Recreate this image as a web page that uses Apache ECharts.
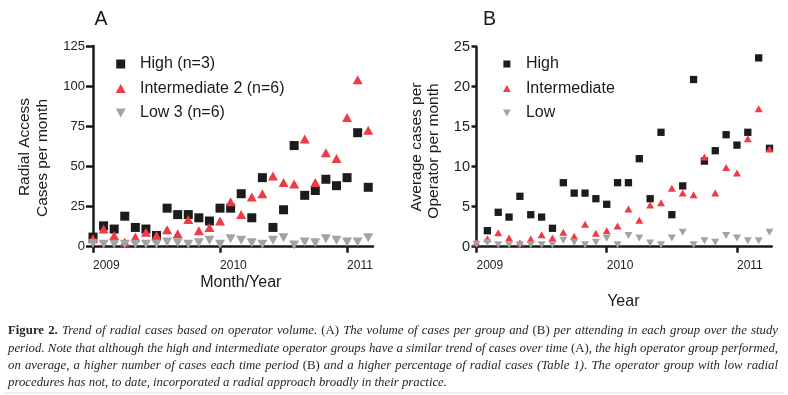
<!DOCTYPE html>
<html>
<head>
<meta charset="utf-8">
<script src="https://cdn.jsdelivr.net/npm/echarts@6/dist/echarts.min.js"></script>
<style>html,body{margin:0;padding:0;background:#fff}#c{width:788px;height:395px}</style>
</head>
<body>
<div id="c"></div>
<script>
// ---------- data (panel A: cases per group per month, month index from Jan 2009) ----------
const monthsA = [0,1,2,3,4,5,6,7,8,9,10,11,12,13,14,15,16,17,18,19,20,21,22,23,24,25,26];
const highA  = [6,13,11,19,12,11,7,24,20,20,18,16,24,24,33,18,43,12,23,63,32,35,42,38,43,71,37];
const interA = [5,11,7,3,6,9,7,10.5,8,17,10,12,16,28,20,31,33,44,40,39,67,40,58.5,55,80.5,104,72.5];
const lowA   = [2,1.5,1.5,1.5,1.5,1.5,1.5,3,2.5,1.5,2.5,4,1.5,5,4,2.5,1.5,4,5.5,1,3,2.5,5,4,3,3,5.5];

// ---------- data (panel B: average cases per operator per month) ----------
const monthsBHigh = [1,2,3,4,5,6,7,8,9,10,11,12,13,14,15,16,17,18,19,20,21,22,23,24,25,26,27];
const highB  = [2.0,4.3,3.7,6.3,4.0,3.7,2.3,8.0,6.7,6.7,6.0,5.3,8.0,8.0,11.0,6.0,14.3,4.0,7.6,20.9,10.7,12.0,14.0,12.7,14.3,23.6,12.3];
const monthsB = [0,1,2,3,4,5,6,7,8,9,10,11,12,13,14,15,16,17,18,19,20,21,22,23,24,25,26,27];
const interB = [0.5,1.0,1.75,1.1,0.5,0.95,1.5,1.1,1.8,1.3,2.8,1.67,2.0,2.6,4.7,3.3,5.2,5.5,7.3,6.7,6.5,11.2,6.7,9.9,9.2,13.5,17.25,12.2];
const lowB   = [0.3,0.5,0.25,0.25,0.25,0.25,0.25,0.25,0.8,0.55,0.25,0.55,1.05,0.25,1.4,1.1,0.45,0.25,1.1,1.8,0.25,0.75,0.55,1.4,1.1,0.75,0.75,1.8];

// ---------- tick labels ----------
const yearTicks  = [0, 12, 24];
const yearLabels = ['2009', '2010', '2011'];
const legendA = ['High (n=3)', 'Intermediate 2 (n=6)', 'Low 3 (n=6)'];
const legendB = ['High', 'Intermediate', 'Low'];

// ---------- caption ----------
const captionLines = [
  [['Figure 2.','b'],[' Trend of radial cases based on operator volume. ','i'],['(A)','n'],[' The volume of cases per group and ','i'],['(B)','n'],[' per attending in each group over the study','i']],
  [['period. Note that although the high and intermediate operator groups have a similar trend of cases over time ','i'],['(A)','n'],[', the high operator group performed,','i']],
  [['on average, a higher number of cases each time period ','i'],['(B)','n'],[' and a higher percentage of radial cases (Table 1). The operator group with low radial','i']],
  [['procedures has not, to date, incorporated a radial approach broadly in their practice.','i']]
];

// ---------- styles ----------
const SANS = '"Liberation Sans", Arial, sans-serif';
const SERIF = '"Liberation Serif", "Times New Roman", serif';
const AX = '#1a1a1a';
const C_HIGH = '#1c1c1c', C_INT = '#ef3b45', C_LOW = '#a3a3a3';
const SQ = 'path://M0,0H10V10H0Z';
const UP = 'path://M5,0L10,9L0,9Z';
const DOWN = 'path://M0,0L10,0L5,9Z';

function xAxisCfg(grid, min, max) {
  return {
    type: 'value', gridIndex: grid, min: min, max: max,
    axisLine: { show: true, onZero: false, lineStyle: { color: AX, width: 2.5 } },
    axisTick: { show: true, customValues: yearTicks, length: 6, lineStyle: { color: AX, width: 2.5 } },
    axisLabel: { customValues: yearTicks, formatter: v => yearLabels[yearTicks.indexOf(v)] || '',
      align: 'left', margin: 13, fontSize: 12, color: '#222', fontFamily: SANS },
    splitLine: { show: false }
  };
}
function yAxisCfg(grid, max, interval, fs, tickLen, margin) {
  return {
    type: 'value', gridIndex: grid, min: 0, max: max, interval: interval,
    axisLine: { show: true, lineStyle: { color: AX, width: 2.5 } },
    axisTick: { show: true, length: tickLen, lineStyle: { color: AX, width: 2.5 } },
    axisLabel: { fontSize: fs, color: '#222', fontFamily: SANS, margin: margin },
    splitLine: { show: false }
  };
}
function pts(xs, ys) { return xs.map((x, i) => [x, ys[i]]); }

// ---------- caption layout (justified words) ----------
const cv = document.createElement('canvas').getContext('2d');
const FS = 13;
function fontOf(s) {
  return s === 'b' ? `bold ${FS}px ${SERIF}` : s === 'n' ? `${FS}px ${SERIF}` : `italic ${FS}px ${SERIF}`;
}
function measure(t, s) { cv.font = fontOf(s); return cv.measureText(t).width; }
function toWords(segs) {
  const words = [[]];
  segs.forEach(([t, s]) => {
    t.split(' ').forEach((p, i) => {
      if (i > 0) words.push([]);
      if (p) words[words.length - 1].push([p, s]);
    });
  });
  return words.filter(w => w.length);
}
const capLeft = 8, capRight = 778;
const capY = [331, 348.5, 366, 383];
const lastLineTarget = 439;
let sx = 1;
{
  const w4 = toWords(captionLines[3]);
  const nat = w4.reduce((a, w) => a + w.reduce((b, [t, s]) => b + measure(t, s), 0), 0) + (w4.length - 1) * measure(' ', 'i');
  sx = Math.max(0.75, Math.min(1.1, lastLineTarget / nat));
}
const captionGraphics = [];
captionLines.forEach((segs, li) => {
  const words = toWords(segs);
  const widths = words.map(w => w.reduce((b, [t, s]) => b + measure(t, s) * sx, 0));
  const total = widths.reduce((a, b) => a + b, 0);
  const gap = li < 3 ? (capRight - capLeft - total) / (words.length - 1) : measure(' ', 'i') * sx;
  let x = capLeft;
  words.forEach((w, wi) => {
    let px = x;
    w.forEach(([t, s]) => {
      captionGraphics.push({ type: 'text', x: px, y: capY[li], scaleX: sx, silent: true,
        style: { text: t, font: fontOf(s), fill: '#262626', align: 'left', verticalAlign: 'middle' } });
      px += measure(t, s) * sx;
    });
    x += widths[wi] + gap;
  });
});

function label(text, x, y, size, rot) {
  return { type: 'text', x: x, y: y, rotation: rot ? Math.PI / 2 : 0, silent: true,
    style: { text: text, font: `${size}px ${SANS}`, fill: '#1a1a1a', align: 'center', verticalAlign: 'middle' } };
}

const chart = echarts.init(document.getElementById('c'), null, { renderer: 'canvas' });
chart.setOption({
  animation: false,
  backgroundColor: '#fff',
  grid: [
    { left: 93, top: 46, width: 280, height: 200.7 },
    { left: 476.5, top: 46.7, width: 295.2, height: 200 }
  ],
  xAxis: [ xAxisCfg(0, 0, 26.45), xAxisCfg(1, 0, 27.2) ],
  yAxis: [ yAxisCfg(0, 125, 25, 13, 7, 8), yAxisCfg(1, 25, 5, 14.5, 5, 6.5) ],
  legend: [
    { data: [{ name: legendA[0], icon: SQ }, { name: legendA[1], icon: UP }, { name: legendA[2], icon: DOWN }],
      orient: 'vertical', left: 115.7, top: 56, itemWidth: 28.6, itemHeight: 9, itemGap: 8.5, padding: 0,
      selectedMode: false, textStyle: { fontSize: 16, lineHeight: 16, fontFamily: SANS, color: '#1a1a1a' } },
    { data: [{ name: legendB[0], icon: SQ }, { name: legendB[1], icon: UP }, { name: legendB[2], icon: DOWN }],
      orient: 'vertical', left: 503, top: 56, itemWidth: 28, itemHeight: 7, itemGap: 8.5, padding: 0,
      selectedMode: false, textStyle: { fontSize: 16, lineHeight: 16, fontFamily: SANS, color: '#1a1a1a' } }
  ],
  series: [
    { type: 'scatter', name: legendA[0], xAxisIndex: 0, yAxisIndex: 0, data: pts(monthsA, highA), symbol: SQ, symbolSize: 9, itemStyle: { color: C_HIGH, opacity: 1 } },
    { type: 'scatter', name: legendA[1], xAxisIndex: 0, yAxisIndex: 0, data: pts(monthsA, interA), symbol: UP, symbolSize: [10, 9], itemStyle: { color: C_INT, opacity: 1 } },
    { type: 'scatter', name: legendA[2], xAxisIndex: 0, yAxisIndex: 0, data: pts(monthsA, lowA), symbol: DOWN, symbolSize: [10, 9], itemStyle: { color: C_LOW, opacity: 1 } },
    { type: 'scatter', name: legendB[0], xAxisIndex: 1, yAxisIndex: 1, data: pts(monthsBHigh, highB), symbol: SQ, symbolSize: 7.3, itemStyle: { color: C_HIGH, opacity: 1 } },
    { type: 'scatter', name: legendB[1], xAxisIndex: 1, yAxisIndex: 1, data: pts(monthsB, interB), symbol: UP, symbolSize: [8, 7], itemStyle: { color: C_INT, opacity: 1 } },
    { type: 'scatter', name: legendB[2], xAxisIndex: 1, yAxisIndex: 1, data: pts(monthsB, lowB), symbol: DOWN, symbolSize: [8, 7], itemStyle: { color: C_LOW, opacity: 1 } }
  ],
  graphic: [
    label('A', 101, 20, 19.5, false),
    label('B', 489.5, 20, 19.5, false),
    label('Radial Access', 25, 147, 15.5, true),
    label('Cases per month', 43, 158, 15.5, true),
    label('Average cases per', 416.7, 147, 15.5, true),
    label('Operator per month', 433.3, 151, 15.5, true),
    label('Month/Year', 240.8, 283, 16, false),
    label('Year', 623.3, 302, 16, false),
    { type: 'line', silent: true, shape: { x1: 4, y1: 393, x2: 784, y2: 393 }, style: { stroke: '#dcdcdc', lineWidth: 1 } }
  ].concat(captionGraphics)
});
</script>
</body>
</html>
